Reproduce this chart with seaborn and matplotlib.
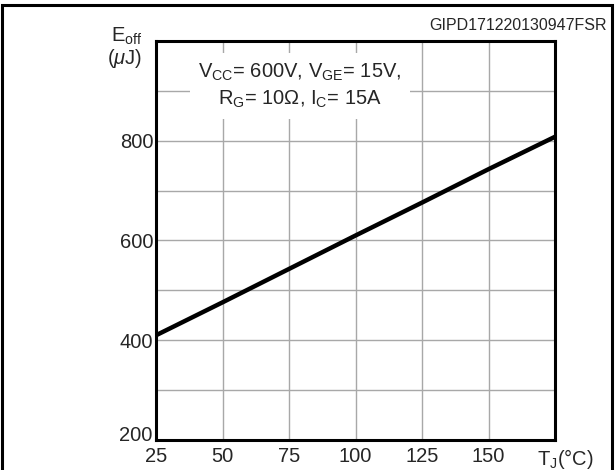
import matplotlib
matplotlib.use("Agg")
import numpy as np
import pandas as pd
import matplotlib.pyplot as plt
import seaborn as sns
from matplotlib.patches import Rectangle

# values
tj = [25, 50, 75, 100, 125, 150, 175]
eoff = [410, 476, 543, 610, 676, 743, 808]
x_ticks = [25, 50, 75, 100, 125, 150, 175]
x_labels = ["25", "50", "75", "100", "125", "150", ""]
y_ticks = [200, 300, 400, 500, 600, 700, 800, 900, 1000]
y_labels = ["", "", "400", "", "600", "", "800", "", ""]

sns.set_style("white")
plt.rcParams['font.family'] = ['Liberation Sans', 'DejaVu Sans']
plt.rcParams['mathtext.fontset'] = 'custom'
plt.rcParams['mathtext.rm'] = 'Liberation Sans'
plt.rcParams['mathtext.it'] = 'Liberation Sans:italic'
plt.rcParams['mathtext.default'] = 'regular'

fs = 14.5
fig = plt.figure(figsize=(6.15, 4.7), dpi=100)
ax = fig.add_axes([0.2537, 0.0638, 0.6488, 0.849])

df = pd.DataFrame({"tj": tj, "eoff": eoff})
sns.lineplot(data=df, x="tj", y="eoff", ax=ax, color="black", lw=3.2,
             solid_capstyle="butt", zorder=3)

ax.set_xlim(25, 175)
ax.set_ylim(200, 1000)
ax.set_xticks(x_ticks)
ax.set_xticklabels(x_labels, fontsize=fs)
ax.set_yticks(y_ticks)
ax.set_yticklabels(y_labels, fontsize=fs)
ax.tick_params(length=0, pad=2)
ax.tick_params(axis="x", pad=5)
ax.set_xlabel("")
ax.set_ylabel("")
ax.grid(True, color="#a8a8a8", lw=1)
for s in ax.spines.values():
    s.set_visible(True)
    s.set_color("black")
    s.set_linewidth(2.2)
    s.set_zorder(4)

# bottom y label sits a little higher so it clears the "25"
ax.annotate("200", xy=(25, 200), xytext=(-2.5, 3), textcoords="offset points",
            ha="right", va="center", fontsize=fs, annotation_clip=False)

ax.text(79, 910, "V$_{CC}$= 600V, V$_{GE}$= 15V,\nR$_{G}$= 10Ω, I$_{C}$= 15A",
        ha="center", va="center", fontsize=fs, linespacing=1.4, zorder=2,
        bbox=dict(facecolor="white", edgecolor="none", pad=6))

ax.text(1.025, -0.017, "T$_{J}$(°C)", transform=ax.transAxes, ha="center",
        va="top", fontsize=fs)

fig.text(142/615, 1-36/470, "E$_{off}$", ha="right", va="center", fontsize=fs)
fig.text(142/615, 1-58/470, r"($\mathit{\mu}$J)", ha="right", va="center", fontsize=fs)
fig.text(607/615, 1-25/470, "GIPD171220130947FSR", ha="right", va="center", fontsize=11.5)

fig.patches.append(Rectangle((0.0025, -0.05), 0.9925, 1.04, transform=fig.transFigure,
                             fill=False, edgecolor="black", lw=2.2))

fig.savefig("out.png", dpi=100)
